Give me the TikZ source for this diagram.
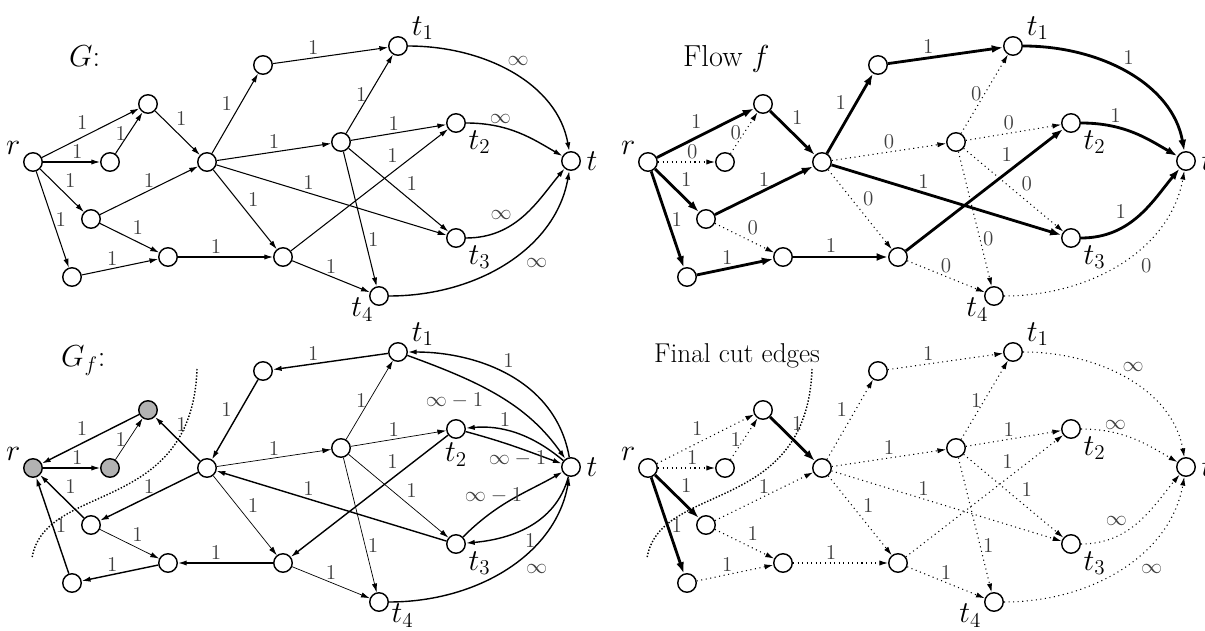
\documentclass[tikz,border=0pt]{standalone}
\usetikzlibrary{arrows.meta}

% the fifteen vertices of the network; #1 / #2 = label spec of t_2 / t_4
\newcommand{\netnodes}[2]{%
    \node[vtx, src, label={[nlab]above left:$r$}] (r) at (33,162) {};
    \node[vtx, src] (a) at (148,104) {};
    \node[vtx, src] (b) at (110,162) {};
    \node[vtx] (c) at (91,219) {};
    \node[vtx] (d) at (72,277) {};
    \node[vtx] (e) at (168,257) {};
    \node[vtx] (h) at (207,162) {};
    \node[vtx] (k) at (263,65) {};
    \node[vtx] (m) at (283,257) {};
    \node[vtx] (n) at (341,142) {};
    \node[vtx, label={[nlab]35:$t_1$}] (t1) at (398,46) {};
    \node[vtx, label={#1:$t_2$}] (t2) at (456,123) {};
    \node[vtx, label={[nlab]below right:$t_3$}] (t3) at (456,238) {};
    \node[vtx, label={#2:$t_4$}] (t4) at (379,296) {};
    \node[vtx, label={[nlab]right:$t$}] (t) at (571,161) {};
}

\begin{document}
\begin{tikzpicture}[
        x=0.02cm, y=-0.02cm,
        vtx/.style={circle, draw, thick, fill=white, minimum size=0.37cm, inner sep=0pt},
        src/.style={},
        nlab/.style={font=\LARGE, inner xsep=3pt, inner ysep=0pt},
        elab/.style={font=\large, text=black!75, inner sep=1.5pt},
        paneltitle/.style={font=\LARGE, anchor=base west},
        plainedge/.style={-{Latex[length=5pt, width=3pt]}, semithick},
        backedge/.style={plainedge, thick},
        residedge/.style={plainedge, thin},
        zeroedge/.style={plainedge, dotted},
        sinkedge/.style={plainedge, thick},
        flowedge/.style={-{Latex[length=6.5pt, width=4.5pt]}, ultra thick},
        cutline/.style={densely dotted, thick}
    ]
    \useasboundingbox (0,0) rectangle (1205,631);

    % ==========================================
    % PANEL 1: G (capacities)
    % ==========================================
    \begin{scope}[name prefix=G-]
        \node[paneltitle] (title) at (63,67) {$G$:};
        \netnodes{[nlab]below right}{[nlab, xshift=4pt, yshift=3pt]below left}

        \draw[plainedge] (r) -- (a) node[elab, midway, above left] {1};
        \draw[plainedge] (r) -- (b) node[elab, pos=.6, above] {1};
        \draw[plainedge] (b) -- (a) node[elab, midway, left] {1};
        \draw[plainedge] (r) -- (c) node[elab, midway, above right] {1};
        \draw[plainedge] (r) -- (d) node[elab, midway, right] {1};
        \draw[plainedge] (a) -- (h) node[elab, pos=.4, above right] {1};
        \draw[plainedge] (c) -- (h) node[elab, midway, above] {1};
        \draw[plainedge] (c) -- (e) node[elab, midway, above right] {1};
        \draw[plainedge] (d) -- (e) node[elab, pos=.4, above] {1};
        \draw[plainedge] (e) -- (m) node[elab, pos=.4, above] {1};
        \draw[plainedge] (h) -- (k) node[elab, midway, above left] {1};
        \draw[plainedge] (h) -- (n) node[elab, midway, above] {1};
        \draw[plainedge] (h) -- (m) node[elab, midway, above right] {1};
        \draw[plainedge] (h) -- (t3) node[elab, pos=.4, above] {1};
        \draw[plainedge] (k) -- (t1) node[elab, pos=.35, above] {1};
        \draw[plainedge] (n) -- (t1) node[elab, midway, left] {1};
        \draw[plainedge] (n) -- (t2) node[elab, pos=.45, above] {1};
        \draw[plainedge] (n) -- (t3) node[elab, pos=.55, above right] {1};
        \draw[plainedge] (n) -- (t4) node[elab, pos=.65, right] {1};
        \draw[plainedge] (m) -- (t2) node[elab, pos=.7, above left] {1};
        \draw[plainedge] (m) -- (t4) node[elab, midway, above] {1};

        \draw[sinkedge] (t1) to[out=0, in=100] node[elab, pos=.45, above right] {$\infty$} (t);
        \draw[sinkedge] (t2) to[out=0, in=150] node[elab, pos=.3, above] {$\infty$} (t);
        \draw[sinkedge] (t3) to[out=0, in=-130] node[elab, pos=.4, above left] {$\infty$} (t);
        \draw[sinkedge] (t4) to[out=0, in=-100] node[elab, pos=.57, below right, inner sep=3pt] {$\infty$} (t);
    \end{scope}

    % ==========================================
    % PANEL 2: Flow f
    % ==========================================
    \begin{scope}[shift={(615,0)}, name prefix=F-]
        \node[paneltitle] (title) at (62,67) {Flow $f$};
        \netnodes{[nlab]below right}{[nlab, xshift=4pt, yshift=3pt]below left}

        \draw[flowedge] (r) -- (a) node[elab, midway, above left] {1};
        \draw[zeroedge] (r) -- (b) node[elab, pos=.6, above] {0};
        \draw[zeroedge] (b) -- (a) node[elab, midway, left] {0};
        \draw[flowedge] (r) -- (c) node[elab, midway, above right] {1};
        \draw[flowedge] (r) -- (d) node[elab, midway, right] {1};
        \draw[flowedge] (a) -- (h) node[elab, pos=.4, above right] {1};
        \draw[flowedge] (c) -- (h) node[elab, midway, above] {1};
        \draw[zeroedge] (c) -- (e) node[elab, midway, above right] {0};
        \draw[flowedge] (d) -- (e) node[elab, pos=.4, above] {1};
        \draw[flowedge] (e) -- (m) node[elab, pos=.4, above] {1};
        \draw[flowedge] (h) -- (k) node[elab, midway, above left] {1};
        \draw[zeroedge] (h) -- (n) node[elab, midway, above] {0};
        \draw[zeroedge] (h) -- (m) node[elab, midway, above right] {0};
        \draw[flowedge] (h) -- (t3) node[elab, pos=.4, above] {1};
        \draw[flowedge] (k) -- (t1) node[elab, pos=.35, above] {1};
        \draw[zeroedge] (n) -- (t1) node[elab, midway, left] {0};
        \draw[zeroedge] (n) -- (t2) node[elab, pos=.45, above] {0};
        \draw[zeroedge] (n) -- (t3) node[elab, pos=.55, above right] {0};
        \draw[zeroedge] (n) -- (t4) node[elab, pos=.65, right] {0};
        \draw[flowedge] (m) -- (t2) node[elab, pos=.7, above left] {1};
        \draw[zeroedge] (m) -- (t4) node[elab, midway, above] {0};

        \draw[flowedge] (t1) to[out=0, in=100] node[elab, pos=.45, above right] {1} (t);
        \draw[flowedge] (t2) to[out=0, in=150] node[elab, pos=.3, above] {1} (t);
        \draw[flowedge] (t3) to[out=0, in=-130] node[elab, pos=.4, above left] {1} (t);
        \draw[zeroedge] (t4) to[out=0, in=-100] node[elab, pos=.57, below right, inner sep=3pt] {0} (t);
    \end{scope}

    % ==========================================
    % PANEL 3: residual graph G_f
    % ==========================================
    \begin{scope}[shift={(0,306)}, name prefix=R-, src/.style={fill=black!30}]
        \node[paneltitle] (title) at (55,61) {$G_f$:};
        \netnodes{[nlab, yshift=-2pt]below}{[nlab, yshift=3pt]below right}

        \draw[backedge] (a) -- (r) node[elab, midway, above left] {1};
        \draw[plainedge] (r) -- (b) node[elab, pos=.6, above] {1};
        \draw[residedge] (b) -- (a) node[elab, midway, left] {1};
        \draw[backedge] (c) -- (r) node[elab, midway, above right] {1};
        \draw[backedge] (d) -- (r) node[elab, midway, right] {1};
        \draw[backedge] (h) -- (a) node[elab, pos=.6, above right] {1};
        \draw[backedge] (h) -- (c) node[elab, midway, above] {1};
        \draw[residedge] (c) -- (e) node[elab, midway, above right] {1};
        \draw[backedge] (e) -- (d) node[elab, pos=.6, above] {1};
        \draw[backedge] (m) -- (e) node[elab, pos=.6, above] {1};
        \draw[backedge] (k) -- (h) node[elab, midway, above left] {1};
        \draw[residedge] (h) -- (n) node[elab, midway, above] {1};
        \draw[residedge] (h) -- (m) node[elab, midway, above right] {1};
        \draw[backedge] (t3) -- (h) node[elab, pos=.6, above] {1};
        \draw[backedge] (t1) -- (k) node[elab, pos=.65, above] {1};
        \draw[residedge] (n) -- (t1) node[elab, midway, left] {1};
        \draw[residedge] (n) -- (t2) node[elab, pos=.45, above] {1};
        \draw[residedge] (n) -- (t3) node[elab, pos=.55, above right] {1};
        \draw[residedge] (n) -- (t4) node[elab, pos=.65, right] {1};
        \draw[backedge] (t2) -- (m) node[elab, pos=.3, above left] {1};
        \draw[residedge] (m) -- (t4) node[elab, midway, above] {1};

        \draw[sinkedge] (t) to[out=100, in=0] node[elab, pos=.55, above right] {1} (t1);
        \draw[sinkedge] (t1) to[out=-20, in=125] node[elab, pos=.42, below left] {$\infty-1$} (t);
        \draw[sinkedge] (t) to[out=140, in=5] node[elab, pos=.6, above] {1} (t2);
        \draw[sinkedge] (t2) to[out=-15, in=160] node[elab, pos=.5, below] {$\infty-1$} (t);
        \draw[sinkedge] (t3) to[out=45, in=-150] node[elab, pos=.3, above, inner sep=4pt] {$\infty-1$} (t);
        \draw[sinkedge] (t) to[out=-105, in=5] node[elab, pos=.55, below right] {1} (t3);
        \draw[sinkedge] (t4) to[out=0, in=-100] node[elab, pos=.57, below right, inner sep=3pt] {$\infty$} (t);

        \draw[cutline] (197,63) .. controls (192,210) and (45,175) .. (32,252);
    \end{scope}

    % ==========================================
    % PANEL 4: Final cut edges
    % ==========================================
    \begin{scope}[shift={(615,306)}, name prefix=C-]
        \node[paneltitle, font=\fontsize{15.5}{18}\selectfont] (title) at (33,57) {Final cut edges};
        \netnodes{[nlab]below right}{[nlab, yshift=3pt]below left}

        \draw[zeroedge] (r) -- (a) node[elab, midway, above left] {1};
        \draw[zeroedge] (r) -- (b) node[elab, pos=.6, above] {1};
        \draw[zeroedge] (b) -- (a) node[elab, midway, left] {1};
        \draw[flowedge] (r) -- (c) node[elab, midway, above right] {1};
        \draw[flowedge] (r) -- (d) node[elab, midway, right] {1};
        \draw[flowedge] (a) -- (h) node[elab, pos=.4, above right] {1};
        \draw[zeroedge] (c) -- (h) node[elab, midway, above] {1};
        \draw[zeroedge] (c) -- (e) node[elab, midway, above right] {1};
        \draw[zeroedge] (d) -- (e) node[elab, pos=.4, above] {1};
        \draw[zeroedge] (e) -- (m) node[elab, pos=.4, above] {1};
        \draw[zeroedge] (h) -- (k) node[elab, midway, above left] {1};
        \draw[zeroedge] (h) -- (n) node[elab, midway, above] {1};
        \draw[zeroedge] (h) -- (m) node[elab, midway, above right] {1};
        \draw[zeroedge] (h) -- (t3) node[elab, pos=.4, above] {1};
        \draw[zeroedge] (k) -- (t1) node[elab, pos=.35, above] {1};
        \draw[zeroedge] (n) -- (t1) node[elab, midway, left] {1};
        \draw[zeroedge] (n) -- (t2) node[elab, pos=.45, above] {1};
        \draw[zeroedge] (n) -- (t3) node[elab, pos=.55, above right] {1};
        \draw[zeroedge] (n) -- (t4) node[elab, pos=.65, right] {1};
        \draw[zeroedge] (m) -- (t2) node[elab, pos=.7, above left] {1};
        \draw[zeroedge] (m) -- (t4) node[elab, midway, above] {1};

        \draw[zeroedge] (t1) to[out=0, in=100] node[elab, pos=.45, above right] {$\infty$} (t);
        \draw[zeroedge] (t2) to[out=0, in=150] node[elab, pos=.3, above] {$\infty$} (t);
        \draw[zeroedge] (t3) to[out=0, in=-130] node[elab, pos=.4, above left] {$\infty$} (t);
        \draw[zeroedge] (t4) to[out=0, in=-100] node[elab, pos=.57, below right, inner sep=3pt] {$\infty$} (t);

        \draw[cutline] (197,63) .. controls (192,210) and (45,175) .. (32,252);
    \end{scope}

\end{tikzpicture}
\end{document}
